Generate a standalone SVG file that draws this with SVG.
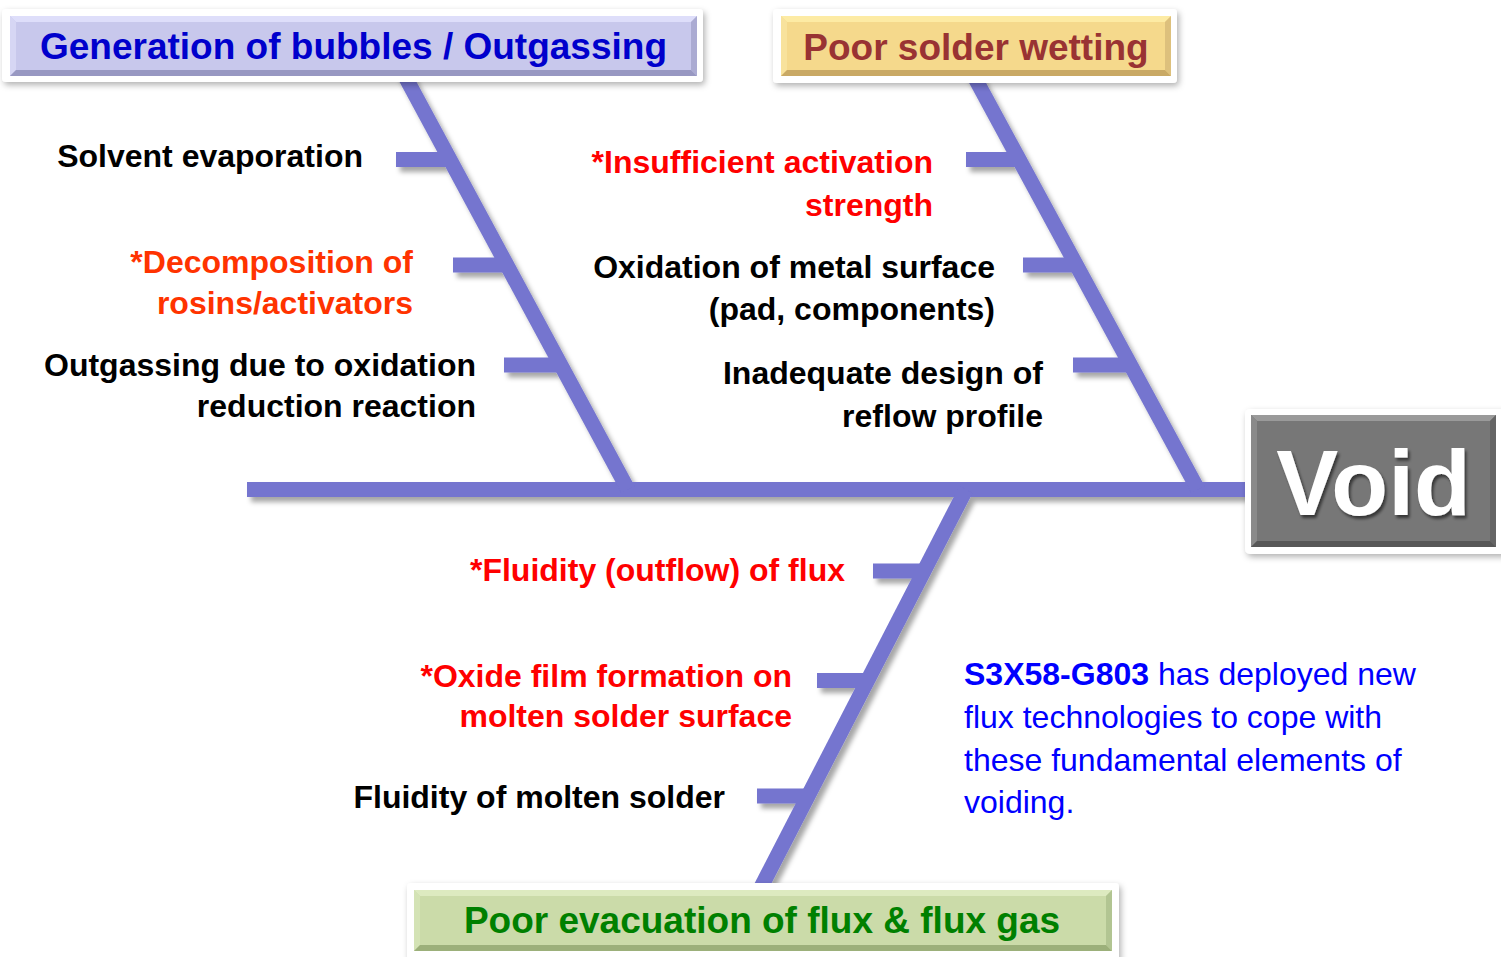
<svg xmlns="http://www.w3.org/2000/svg" width="1501" height="957" viewBox="0 0 1501 957">
  <defs>
    <style>
      .bone { stroke: #7474CF; stroke-width: 15; stroke-linecap: butt; fill: none; }
      .frame { fill: #FFFFFF; filter: url(#boxShadow); }
      .head { font-family: "Liberation Sans", Arial, sans-serif; font-weight: bold; font-size: 37px; text-anchor: middle; }
      .lbl { font-family: "Liberation Sans", Arial, sans-serif; font-weight: bold; font-size: 32px; text-anchor: end; }
      .note { font-family: "Liberation Sans", Arial, sans-serif; font-size: 32px; fill: #0000FF; }
      .blk { fill: #000000; }
      .red { fill: #FF0000; }
      .org { fill: #FF3300; }
    </style>
    <filter id="lineShadow" x="-5%" y="-5%" width="115%" height="115%">
      <feDropShadow dx="4" dy="5" stdDeviation="2.5" flood-color="#000000" flood-opacity="0.35"/>
    </filter>
    <filter id="boxShadow" x="-5%" y="-20%" width="110%" height="150%">
      <feDropShadow dx="2" dy="3" stdDeviation="3" flood-color="#000000" flood-opacity="0.3"/>
    </filter>
    <filter id="textShadow" x="-10%" y="-10%" width="130%" height="130%">
      <feDropShadow dx="2" dy="3" stdDeviation="1.5" flood-color="#000000" flood-opacity="0.55"/>
    </filter>
  </defs>

  <rect x="0" y="0" width="1501" height="957" fill="#FFFFFF"/>

  <!-- fishbone skeleton -->
  <g id="connectors" filter="url(#lineShadow)">
    <line class="bone" x1="247" y1="489.5" x2="1252" y2="489.5"/>
    <!-- upper left branch -->
    <line class="bone" x1="401.6" y1="70" x2="628" y2="489.5"/>
    <line class="bone" x1="396" y1="159.5" x2="450" y2="159.5"/>
    <line class="bone" x1="453" y1="265" x2="507" y2="265"/>
    <line class="bone" x1="504" y1="365" x2="561" y2="365"/>
    <!-- upper right branch -->
    <line class="bone" x1="970.6" y1="70" x2="1198" y2="489.5"/>
    <line class="bone" x1="966" y1="159.5" x2="1019" y2="159.5"/>
    <line class="bone" x1="1023" y1="265" x2="1076" y2="265"/>
    <line class="bone" x1="1073" y1="365" x2="1131" y2="365"/>
    <!-- lower branch -->
    <line class="bone" x1="966" y1="489.5" x2="757" y2="895"/>
    <line class="bone" x1="873" y1="571" x2="924" y2="571"/>
    <line class="bone" x1="817" y1="680.5" x2="867" y2="680.5"/>
    <line class="bone" x1="757" y1="796" x2="807" y2="796"/>
  </g>

  <!-- category: bubbles / outgassing -->
  <g id="cat-bubbles">
    <rect class="frame" x="2" y="9" width="701" height="73" rx="4"/>
    <rect x="10" y="16" width="687" height="60" fill="#C8C8EC"/>
    <polygon points="10,16 697,16 691,22 16,22" fill="#DEDEFA"/>
    <polygon points="10,16 16,22 16,70 10,76" fill="#D6D6F4"/>
    <polygon points="697,16 691,22 691,70 697,76" fill="#ABABD2"/>
    <polygon points="10,76 697,76 691,70 16,70" fill="#9898C2"/>
    <text class="head" x="353.5" y="59" fill="#0000CC">Generation of bubbles / Outgassing</text>
  </g>

  <!-- category: solder wetting -->
  <g id="cat-wetting">
    <rect class="frame" x="773" y="9" width="404" height="74" rx="4"/>
    <rect x="781" y="16" width="390" height="60" fill="#F5D98C"/>
    <polygon points="781,16 1171,16 1165,22 787,22" fill="#FDEBA4"/>
    <polygon points="781,16 787,22 787,70 781,76" fill="#F8E29C"/>
    <polygon points="1171,16 1165,22 1165,70 1171,76" fill="#DDC07C"/>
    <polygon points="781,76 1171,76 1165,70 787,70" fill="#C9A965"/>
    <text class="head" x="976" y="60" fill="#993333">Poor solder wetting</text>
  </g>

  <!-- effect: void -->
  <g id="effect-void">
    <rect class="frame" x="1245" y="409" width="262" height="145" rx="5"/>
    <rect x="1251" y="415" width="245" height="132" fill="#777777"/>
    <polygon points="1251,415 1496,415 1490,421 1257,421" fill="#9A9A9A"/>
    <polygon points="1251,415 1257,421 1257,541 1251,547" fill="#8A8A8A"/>
    <polygon points="1496,415 1490,421 1490,541 1496,547" fill="#656565"/>
    <polygon points="1251,547 1496,547 1490,541 1257,541" fill="#575757"/>
    <text x="1373.5" y="515" font-family="'Liberation Sans', Arial, sans-serif" font-weight="bold" font-size="93" text-anchor="middle" fill="#FFFFFF" filter="url(#textShadow)">Void</text>
  </g>

  <!-- category: flux evacuation -->
  <g id="cat-evacuation">
    <rect class="frame" x="407" y="883" width="712" height="80" rx="4"/>
    <rect x="414" y="890" width="698" height="61" fill="#CBDBA9"/>
    <polygon points="414,890 1112,890 1106,896 420,896" fill="#DDEAC0"/>
    <polygon points="414,890 420,896 420,945 414,951" fill="#D4E3B5"/>
    <polygon points="1112,890 1106,896 1106,945 1112,951" fill="#B2C592"/>
    <polygon points="414,951 1112,951 1106,945 420,945" fill="#9CB07A"/>
    <text class="head" x="762" y="933" fill="#008000">Poor evacuation of flux &amp; flux gas</text>
  </g>

  <!-- cause labels -->
  <g id="cause-solvent">
    <text class="lbl blk" x="363" y="167">Solvent evaporation</text>
  </g>
  <g id="cause-decomposition">
    <text class="lbl org" x="413" y="273">*Decomposition of</text>
    <text class="lbl org" x="413" y="314">rosins/activators</text>
  </g>
  <g id="cause-redox">
    <text class="lbl blk" x="476" y="376">Outgassing due to oxidation</text>
    <text class="lbl blk" x="476" y="417">reduction reaction</text>
  </g>
  <g id="cause-activation">
    <text class="lbl red" x="933" y="173">*Insufficient activation</text>
    <text class="lbl red" x="933" y="216">strength</text>
  </g>
  <g id="cause-oxidation">
    <text class="lbl blk" x="995" y="278">Oxidation of metal surface</text>
    <text class="lbl blk" x="995" y="320">(pad, components)</text>
  </g>
  <g id="cause-profile">
    <text class="lbl blk" x="1043" y="384">Inadequate design of</text>
    <text class="lbl blk" x="1043" y="427">reflow profile</text>
  </g>
  <g id="cause-outflow">
    <text class="lbl red" x="845" y="581">*Fluidity (outflow) of flux</text>
  </g>
  <g id="cause-oxidefilm">
    <text class="lbl red" x="792" y="687">*Oxide film formation on</text>
    <text class="lbl red" x="792" y="727">molten solder surface</text>
  </g>
  <g id="cause-solderflow">
    <text class="lbl blk" x="725" y="808">Fluidity of molten solder</text>
  </g>

  <!-- product note -->
  <g id="note">
    <text class="note" x="964" y="685"><tspan font-weight="bold">S3X58-G803</tspan> has deployed new</text>
    <text class="note" x="964" y="728">flux technologies to cope with</text>
    <text class="note" x="964" y="771">these fundamental elements of</text>
    <text class="note" x="964" y="813">voiding.</text>
  </g>
</svg>
